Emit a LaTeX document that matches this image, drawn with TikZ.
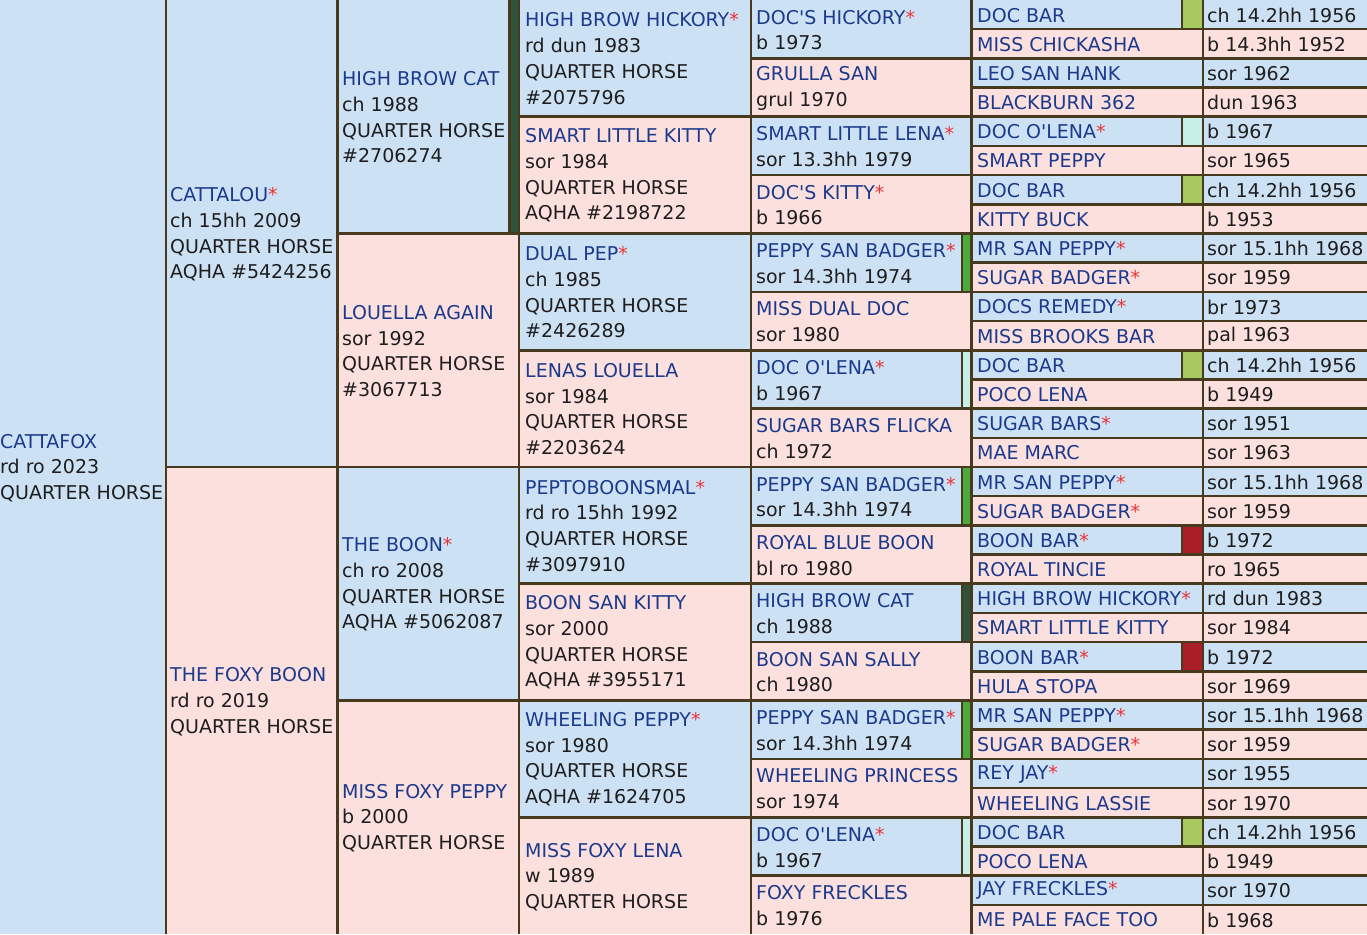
\documentclass[tikz,border=0pt]{standalone}
\usepackage{fontspec}
\setmainfont{DejaVu Sans}[Ligatures=TeXOff]
\definecolor{bgblue}{RGB}{205,225,245}
\definecolor{bgpink}{RGB}{252,224,222}
\definecolor{nameblue}{RGB}{28,58,140}
\definecolor{textblack}{RGB}{30,30,30}
\definecolor{starred}{RGB}{235,50,55}
\definecolor{rulebrown}{RGB}{72,58,30}
\definecolor{mkgr}{RGB}{76,170,60}
\definecolor{mkcy}{RGB}{200,238,232}
\definecolor{mkdg}{RGB}{46,82,58}
\definecolor{mkyg}{RGB}{168,200,96}
\definecolor{mkdr}{RGB}{170,30,40}
\newcommand\nm[1]{\textcolor{nameblue}{#1}}
\newcommand\rst{\textcolor{starred}{*}}
\begin{document}
\begin{tikzpicture}[x=1pt,y=-1pt,
  rule/.style={draw=rulebrown,line width=2.6pt},
  txt/.style={anchor=west,align=left,inner sep=0pt,text=textblack,font=\fontsize{19}{25.7}\selectfont}]
\useasboundingbox (0,0) rectangle (1367,934);
\clip (0,0) rectangle (1367,934);
% backgrounds
\fill[bgblue] (0,0) rectangle (166,934);
\foreach \xa/\xb/\n in {166/337.5/2, 337.5/519/4, 519/751/8, 751/971.5/16, 971.5/1203/32, 1203/1367/32}{
  \foreach \i in {1,...,\n}{
    \pgfmathsetmacro\ya{(\i-1)/\n*934}
    \pgfmathsetmacro\yb{\i/\n*934}
    \pgfmathtruncatemacro\odd{mod(\i,2)}
    \ifnum\odd=1 \fill[bgblue] (\xa,\ya) rectangle (\xb,\yb);\else \fill[bgpink] (\xa,\ya) rectangle (\xb,\yb);\fi
  }
}
% markers
\foreach \i/\c in {1/mkdg}{
  \pgfmathsetmacro\ya{(\i-1)*233.5}\pgfmathsetmacro\yb{\i*233.5}
  \fill[\c] (509.5,\ya) rectangle (519,\yb);
  \draw[rule] (509.5,\ya) -- (509.5,\yb);
}
\foreach \i/\c in {5/mkgr,7/mkcy,9/mkgr,11/mkdg,13/mkgr,15/mkcy}{
  \pgfmathsetmacro\ya{(\i-1)*58.375}\pgfmathsetmacro\yb{\i*58.375}
  \fill[\c] (962,\ya) rectangle (971.5,\yb);
  \draw[rule] (962,\ya) -- (962,\yb);
}
\foreach \i/\c in {1/mkyg,5/mkcy,7/mkyg,13/mkyg,19/mkdr,23/mkdr,29/mkyg}{
  \pgfmathsetmacro\ya{(\i-1)*29.1875}\pgfmathsetmacro\yb{\i*29.1875}
  \fill[\c] (1182,\ya) rectangle (1203,\yb);
  \draw[rule] (1182,\ya) -- (1182,\yb);
}
% rules
\foreach \x in {166,337.5,519,751,971.5,1203} \draw[rule] (\x,0) -- (\x,934);
\foreach \xa/\xb/\n in {166/337.5/2, 337.5/519/4, 519/751/8, 751/971.5/16, 971.5/1367/32}{
  \pgfmathtruncatemacro\m{\n-1}
  \foreach \i in {1,...,\m}{
    \pgfmathsetmacro\yy{\i/\n*934}
    \draw[rule] (\xa,\yy) -- (\xb,\yy);
  }
}
% column 0
\node[txt] (s0) at (0,468) {\nm{CATTAFOX}\\rd ro 2023\\QUARTER HORSE};
% column 1
\node[txt] (p1) at (170,234.5) {\nm{CATTALOU}\rst\\ch 15hh 2009\\QUARTER HORSE\\AQHA \#5424256};
\node[txt] (p2) at (170,701.5) {\nm{THE FOXY BOON}\\rd ro 2019\\QUARTER HORSE};
% column 2
\node[txt] (g1) at (342,117.5) {\nm{HIGH BROW CAT}\\ch 1988\\QUARTER HORSE\\\#2706274};
\node[txt] (g2) at (342,351) {\nm{LOUELLA AGAIN}\\sor 1992\\QUARTER HORSE\\\#3067713};
\node[txt] (g3) at (342,584.5) {\nm{THE BOON}\rst\\ch ro 2008\\QUARTER HORSE\\AQHA \#5062087};
\node[txt] (g4) at (342,818) {\nm{MISS FOXY PEPPY}\\b 2000\\QUARTER HORSE};
% column 3
\node[txt] (h1) at (525,58.6) {\nm{HIGH BROW HICKORY}\rst\\rd dun 1983\\QUARTER HORSE\\\#2075796};
\node[txt] (h2) at (525,175.6) {\nm{SMART LITTLE KITTY}\\sor 1984\\QUARTER HORSE\\AQHA \#2198722};
\node[txt] (h3) at (525,292.4) {\nm{DUAL PEP}\rst\\ch 1985\\QUARTER HORSE\\\#2426289};
\node[txt] (h4) at (525,409.1) {\nm{LENAS LOUELLA}\\sor 1984\\QUARTER HORSE\\\#2203624};
\node[txt] (h5) at (525,525.8) {\nm{PEPTOBOONSMAL}\rst\\rd ro 15hh 1992\\QUARTER HORSE\\\#3097910};
\node[txt] (h6) at (525,642.6) {\nm{BOON SAN KITTY}\\sor 2000\\QUARTER HORSE\\AQHA \#3955171};
\node[txt] (h7) at (525,759.3) {\nm{WHEELING PEPPY}\rst\\sor 1980\\QUARTER HORSE\\AQHA \#1624705};
\node[txt] (h8) at (525,877) {\nm{MISS FOXY LENA}\\w 1989\\QUARTER HORSE};
% column 4
\foreach \nmA/\dt [count=\i] in {
  {\nm{DOC'S HICKORY}\rst}/{b 1973},
  {\nm{GRULLA SAN}}/{grul 1970},
  {\nm{SMART LITTLE LENA}\rst}/{sor 13.3hh 1979},
  {\nm{DOC'S KITTY}\rst}/{b 1966},
  {\nm{PEPPY SAN BADGER}\rst}/{sor 14.3hh 1974},
  {\nm{MISS DUAL DOC}}/{sor 1980},
  {\nm{DOC O'LENA}\rst}/{b 1967},
  {\nm{SUGAR BARS FLICKA}}/{ch 1972},
  {\nm{PEPPY SAN BADGER}\rst}/{sor 14.3hh 1974},
  {\nm{ROYAL BLUE BOON}}/{bl ro 1980},
  {\nm{HIGH BROW CAT}}/{ch 1988},
  {\nm{BOON SAN SALLY}}/{ch 1980},
  {\nm{PEPPY SAN BADGER}\rst}/{sor 14.3hh 1974},
  {\nm{WHEELING PRINCESS}}/{sor 1974},
  {\nm{DOC O'LENA}\rst}/{b 1967},
  {\nm{FOXY FRECKLES}}/{b 1976}}{
  \pgfmathsetmacro\yc{(\i-0.5)*58.375+0.8}
  \node[txt] (k\i) at (756,\yc) {\nmA\\\dt};
}
% columns 5 and 6
\foreach \nmA/\dt [count=\i] in {
  {\nm{DOC BAR}}/{ch 14.2hh 1956},
  {\nm{MISS CHICKASHA}}/{b 14.3hh 1952},
  {\nm{LEO SAN HANK}}/{sor 1962},
  {\nm{BLACKBURN 362}}/{dun 1963},
  {\nm{DOC O'LENA}\rst}/{b 1967},
  {\nm{SMART PEPPY}}/{sor 1965},
  {\nm{DOC BAR}}/{ch 14.2hh 1956},
  {\nm{KITTY BUCK}}/{b 1953},
  {\nm{MR SAN PEPPY}\rst}/{sor 15.1hh 1968},
  {\nm{SUGAR BADGER}\rst}/{sor 1959},
  {\nm{DOCS REMEDY}\rst}/{br 1973},
  {\nm{MISS BROOKS BAR}}/{pal 1963},
  {\nm{DOC BAR}}/{ch 14.2hh 1956},
  {\nm{POCO LENA}}/{b 1949},
  {\nm{SUGAR BARS}\rst}/{sor 1951},
  {\nm{MAE MARC}}/{sor 1963},
  {\nm{MR SAN PEPPY}\rst}/{sor 15.1hh 1968},
  {\nm{SUGAR BADGER}\rst}/{sor 1959},
  {\nm{BOON BAR}\rst}/{b 1972},
  {\nm{ROYAL TINCIE}}/{ro 1965},
  {\nm{HIGH BROW HICKORY}\rst}/{rd dun 1983},
  {\nm{SMART LITTLE KITTY}}/{sor 1984},
  {\nm{BOON BAR}\rst}/{b 1972},
  {\nm{HULA STOPA}}/{sor 1969},
  {\nm{MR SAN PEPPY}\rst}/{sor 15.1hh 1968},
  {\nm{SUGAR BADGER}\rst}/{sor 1959},
  {\nm{REY JAY}\rst}/{sor 1955},
  {\nm{WHEELING LASSIE}}/{sor 1970},
  {\nm{DOC BAR}}/{ch 14.2hh 1956},
  {\nm{POCO LENA}}/{b 1949},
  {\nm{JAY FRECKLES}\rst}/{sor 1970},
  {\nm{ME PALE FACE TOO}}/{b 1968}}{
  \pgfmathsetmacro\yc{(\i-0.5)*29.1875+0.5}
  \node[txt] (m\i) at (977,\yc) {\nmA};
  \node[txt] (d\i) at (1207,\yc) {\dt};
}
\end{tikzpicture}
\end{document}
